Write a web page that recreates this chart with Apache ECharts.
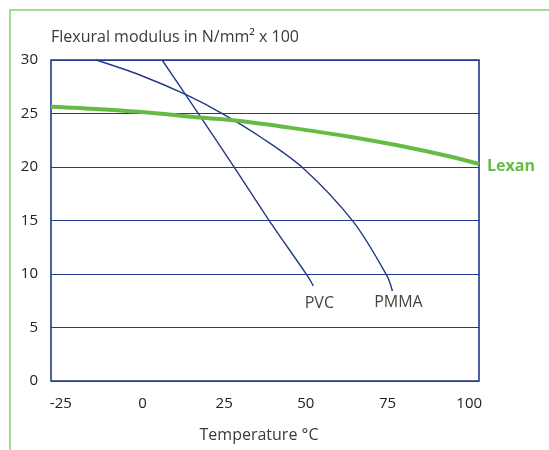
<!DOCTYPE html>
<html>
<head>
<meta charset="utf-8">
<script src="https://cdn.jsdelivr.net/npm/echarts@6/dist/echarts.min.js"></script>
<style>html,body{margin:0;padding:0;background:#fff}#c{width:549px;height:450px}</style>
</head>
<body>
<div id="c"></div>
<script>
// Data (temperature °C, flexural modulus N/mm² x 100)
var lexan = [[-28,25.63],[-13,25.4],[2.3,25.07],[17.6,24.62],[29.9,24.3],[48.2,23.54],[63.5,22.83],[78.8,21.98],[94.1,20.98],[103,20.28]];
var pvc   = [[6,30],[17.3,24.9],[28.3,19.88],[39,14.9],[50.3,9.91],[52.3,8.88]];
var pmma  = [[-14.2,30],[-0.8,28.6],[13.5,26.73],[24.7,24.95],[36,22.83],[49.2,19.88],[64.5,14.89],[74.8,9.84],[76.5,8.41]];
var xTicks = [-25,0,25,50,75,100];
var yTicks = [0,5,10,15,20,25,30];

var navy = '#22398c';
var green = '#66bb44';
var font = 'Open Sans';

var chart = echarts.init(document.getElementById('c'));
chart.setOption({
  animation: false,
  backgroundColor: '#fff',
  title: {
    text: 'Flexural modulus in N/mm² x 100',
    left: 46, top: 24,
    textStyle: {fontFamily: font, fontSize: 16, fontWeight: 'normal', color: '#3a3a3a'}
  },
  graphic: [{
    type: 'rect', left: 7.5, top: 7.5, shape: {width: 600, height: 500},
    style: {fill: 'none', stroke: '#8ccf78', lineWidth: 1.5}, silent: true
  }],
  grid: {left: 51, top: 60, right: 70, bottom: 69, show: true, borderColor: navy, borderWidth: 1.6, outerBoundsMode: 'none'},
  xAxis: {
    type: 'value', min: -28, max: 103,
    name: 'Temperature °C', nameLocation: 'middle', nameGap: 46,
    nameTextStyle: {fontFamily: font, fontSize: 16, color: '#3a3a3a', padding: [0, 12, 0, 0]},
    axisLine: {show: false}, axisTick: {show: false}, splitLine: {show: false},
    axisLabel: {customValues: xTicks, margin: 15, fontFamily: font, fontSize: 15, color: '#222'}
  },
  yAxis: {
    type: 'value', min: 0, max: 30, interval: 5,
    axisLine: {show: false}, axisTick: {show: false},
    splitLine: {show: true, lineStyle: {color: navy, width: 1.2}},
    axisLabel: {customValues: yTicks, margin: 13, fontFamily: font, fontSize: 15, color: '#222'}
  },
  series: [
    {type: 'line', name: 'PVC', data: pvc, smooth: 0.33, showSymbol: false,
     lineStyle: {color: navy, width: 1.4}, z: 3,
     markPoint: {symbol: 'circle', symbolSize: 0, data: [{coord: pvc[pvc.length-1]}],
       label: {show: true, formatter: 'PVC', position: 'bottom', distance: 9, offset: [6, 0], fontFamily: font, fontSize: 16, color: '#444'}}},
    {type: 'line', name: 'PMMA', data: pmma, smooth: 0.33, showSymbol: false,
     lineStyle: {color: navy, width: 1.4}, z: 3,
     markPoint: {symbol: 'circle', symbolSize: 0, data: [{coord: pmma[pmma.length-1]}],
       label: {show: true, formatter: 'PMMA', position: 'bottom', distance: 3, offset: [6, 0], fontFamily: font, fontSize: 16, color: '#444'}}},
    {type: 'line', name: 'Lexan', data: lexan, smooth: 0.33, showSymbol: false,
     lineStyle: {color: green, width: 4}, z: 4,
     markPoint: {symbol: 'circle', symbolSize: 0, data: [{coord: lexan[lexan.length-1]}],
       label: {show: true, formatter: 'Lexan', position: 'right', distance: 8, offset: [0, 2], fontFamily: font, fontSize: 16, fontWeight: 'bold', color: green}}}
  ]
});
</script>
</body>
</html>
